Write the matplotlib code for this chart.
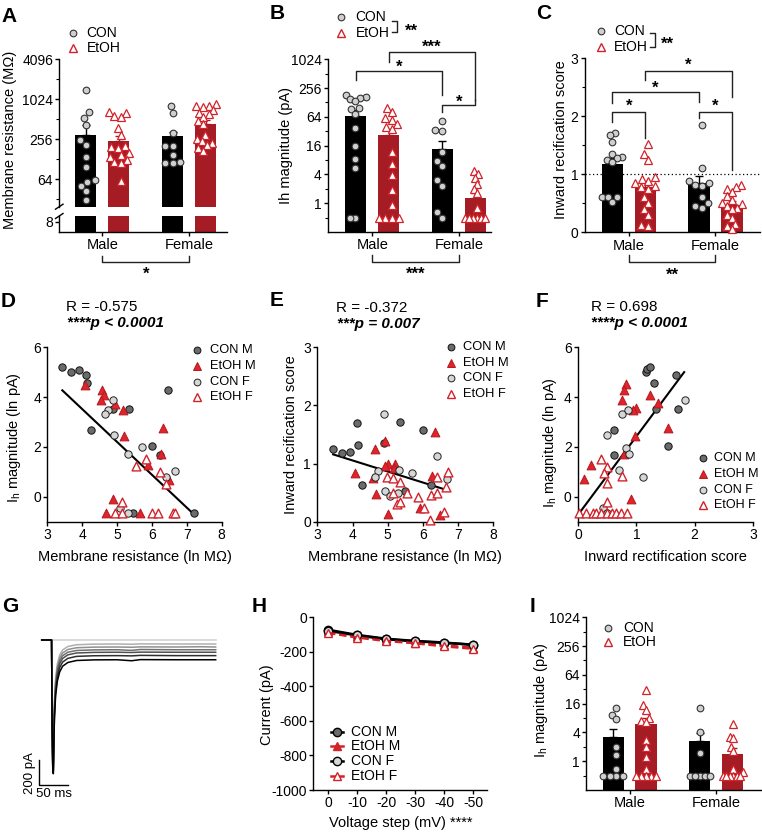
import numpy as np
import matplotlib
matplotlib.use("Agg")
import matplotlib.pyplot as plt
from matplotlib.lines import Line2D
from matplotlib.ticker import FixedLocator, NullFormatter
from matplotlib.transforms import blended_transform_factory

plt.rcParams['font.family'] = ['Liberation Sans', 'DejaVu Sans']
plt.rcParams['mathtext.fontset'] = 'custom'
plt.rcParams['mathtext.rm'] = 'Liberation Sans'
plt.rcParams['mathtext.it'] = 'Liberation Sans:italic'
plt.rcParams['axes.unicode_minus'] = False
plt.rcParams['axes.linewidth'] = 1.0

# ---------------- data ----------------
groups = ['Male', 'Female']

# A: membrane resistance (MOhm)
rm_mean_con = [297, 285]
rm_mean_etoh = [242, 427]
rm_sem_con = [118, 45]
rm_sem_etoh = [48, 73]
rm_con_m = [1400, 660, 540, 420, 250, 211, 140, 98, 62, 58, 51, 42, 31]
rm_etoh_m = [660, 640, 563, 550, 377, 297, 200, 195, 190, 160, 150, 140, 125, 115, 110, 59]
rm_con_f = [810, 630, 315, 205, 205, 150, 110, 112, 115]
rm_etoh_f = [880, 820, 800, 780, 700, 640, 610, 560, 480, 430, 300, 260, 240, 220, 210, 190, 170]

# B: Ih magnitude (pA)
ih_mean_con = [68, 13.7]
ih_mean_etoh = [27, 1.27]
ih_sem_con = [22, 6]
ih_sem_etoh = [8, 0.35]
ih_con_m = [186, 170, 160, 150, 140, 100, 95, 75, 38, 16, 8.3, 5.5, 0.5, 0.5]
ih_etoh_m = [100, 80, 60, 55, 45, 40, 36, 12, 6.5, 3.8, 1.9, 0.9, 0.5, 0.5, 0.5, 0.5]
ih_con_f = [52, 34, 33, 12, 7.7, 6, 3, 2.3, 0.65, 0.5]
ih_etoh_f = [4.7, 4, 3.3, 2.5, 2, 1.6, 0.8, 0.5, 0.5, 0.5, 0.5, 0.5, 0.5]

# C: inward rectification score
irs_mean_con = [1.18, 0.85]
irs_mean_etoh = [0.78, 0.47]
irs_sem_con = [0.1, 0.12]
irs_sem_etoh = [0.1, 0.07]
irs_con_m = [1.71, 1.68, 1.56, 1.35, 1.3, 1.28, 1.25, 1.22, 0.61, 0.6, 0.6, 0.53]
irs_etoh_m = [1.52, 1.35, 1.25, 0.95, 0.92, 0.88, 0.85, 0.8, 0.78, 0.75, 0.6, 0.5, 0.4, 0.3, 0.12, 0.1]
irs_con_f = [1.85, 1.1, 0.88, 0.85, 0.82, 0.8, 0.6, 0.5, 0.45, 0.42]
irs_etoh_f = [0.82, 0.78, 0.75, 0.7, 0.62, 0.55, 0.5, 0.48, 0.45, 0.42, 0.4, 0.3, 0.25, 0.15, 0.1, 0.05]

# D: ln Rm vs ln Ih
d_con_m_x = [3.43, 3.69, 3.92, 4.11, 4.15, 4.26, 4.89, 5.35, 6.00, 6.22, 6.46, 7.20, 5.46]
d_con_m_y = [5.20, 5.00, 5.10, 4.87, 4.56, 2.67, 3.53, 3.52, 2.04, 1.67, 4.29, -0.67, -0.67]
d_etoh_m_x = [4.07, 4.57, 4.62, 4.55, 4.93, 5.17, 5.21, 6.33, 6.26, 5.90, 6.50, 4.88, 4.67, 5.67]
d_etoh_m_y = [4.49, 4.29, 4.07, 3.87, 3.71, 3.49, 2.44, 2.77, 1.73, 1.27, 0.69, -0.09, -0.67, -0.67]
d_con_f_x = [4.88, 4.73, 4.64, 4.91, 5.30, 5.71, 6.39, 6.67, 5.07, 5.31]
d_con_f_y = [3.87, 3.47, 3.31, 2.47, 1.73, 2.00, 0.80, 1.04, -0.44, -0.67]
d_etoh_f_x = [5.55, 5.83, 6.22, 6.41, 5.14, 4.95, 5.14, 6.00, 6.17, 6.60, 6.65]
d_etoh_f_y = [1.23, 1.53, 1.00, 0.53, -0.20, -0.67, -0.67, -0.67, -0.67, -0.67, -0.67]
d_fit = (-1.32, 8.80, 3.43, 7.17)

# E: ln Rm vs inward rectification score
e_con_m_x = [3.45, 3.70, 3.93, 4.16, 4.12, 4.26, 4.90, 5.36, 6.01, 6.24, 5.48]
e_con_m_y = [1.25, 1.18, 1.20, 1.32, 1.70, 0.63, 1.35, 1.72, 1.57, 0.63, 0.53]
e_etoh_m_x = [4.92, 4.63, 4.08, 4.57, 5.00, 4.92, 5.21, 5.19, 4.68, 5.01, 6.35, 6.26, 5.93, 6.49]
e_etoh_m_y = [1.39, 1.25, 0.83, 0.76, 1.00, 0.95, 0.99, 0.92, 0.48, 0.13, 1.55, 0.79, 0.23, 0.11]
e_con_f_x = [4.89, 6.40, 5.69, 5.33, 4.73, 4.64, 4.92, 5.07, 5.30, 6.68]
e_con_f_y = [1.85, 1.13, 0.83, 0.89, 0.88, 0.77, 0.53, 0.45, 0.50, 0.73]
e_etoh_f_x = [4.97, 5.16, 5.36, 5.55, 5.27, 5.36, 5.86, 6.03, 6.24, 6.41, 6.40, 6.70, 6.65, 6.19, 6.60, 5.15]
e_etoh_f_y = [0.77, 0.76, 0.68, 0.50, 0.30, 0.34, 0.43, 0.24, 0.46, 0.50, 0.77, 0.85, 0.59, 0.03, 0.16, 0.49]
e_fit = (-0.19, 1.814, 3.45, 6.67)

# F: inward rectification score vs ln Ih
f_con_m_x = [1.16, 1.19, 1.24, 1.68, 1.31, 1.33, 1.71, 1.55, 0.62, 0.62]
f_con_m_y = [5.00, 5.13, 5.20, 4.87, 4.56, 3.53, 3.53, 2.04, 2.67, 1.67]
f_etoh_m_x = [0.82, 0.79, 0.75, 1.24, 1.37, 1.00, 0.94, 0.97, 1.54, 0.78, 0.23, 0.10, 0.91]
f_etoh_m_y = [4.53, 4.29, 3.89, 4.07, 3.76, 3.57, 3.49, 2.44, 2.77, 1.73, 1.27, 0.73, -0.09]
f_con_f_x = [0.76, 0.86, 0.50, 0.82, 0.87, 0.71, 1.12, 1.83, 0.43, 0.49]
f_con_f_y = [3.31, 3.47, 2.47, 1.97, 1.73, 1.07, 0.80, 3.87, -0.44, -0.67]
f_etoh_f_x = [0.40, 0.49, 0.45, 0.49, 0.75, 0.49, 0.02, 0.13, 0.25, 0.30, 0.39, 0.50, 0.59, 0.65, 0.73, 0.84]
f_etoh_f_y = [1.50, 1.20, 0.96, 0.56, 0.83, -0.20, -0.67, -0.67, -0.67, -0.67, -0.67, -0.67, -0.67, -0.67, -0.67, -0.67]
f_fit = (3.15, -0.73, 0.02, 1.82)

# G: example traces (ms, pA)
g_t = [0, 17, 18, 19, 20, 21, 22, 24, 27, 31, 36, 45, 60, 90, 130, 155, 170, 230, 276, 300]
g_traces = [
    [0, 0, 0, 0, 0, 0, 0, 0, 0, 0, 0, 0, 0, 0, 0, 0, 0, 0, 0, 0],
    [0, 0, -650, -950, -1000, -700, -480, -300, -190, -120, -80, -52, -38, -33, -32, -34, -31, -32, -32, -32],
    [0, 0, -670, -970, -1020, -730, -510, -330, -215, -145, -104, -76, -62, -57, -56, -58, -55, -56, -54, -56],
    [0, 0, -690, -990, -1040, -760, -540, -355, -240, -168, -126, -98, -84, -79, -78, -83, -76, -78, -78, -78],
    [0, 0, -700, -1000, -1050, -780, -560, -380, -262, -190, -148, -119, -104, -99, -98, -100, -97, -98, -98, -98],
    [0, 0, -710, -1010, -1060, -800, -590, -410, -292, -220, -177, -147, -131, -126, -125, -127, -123, -125, -125, -125],
    [0, 0, -720, -1020, -1070, -820, -620, -445, -328, -255, -210, -180, -164, -159, -158, -166, -157, -158, -158, -158],
]

# H: current vs voltage step
steps = [0, -10, -20, -30, -40, -50]
h_con_m = [-72, -102, -124, -137, -146, -160]
h_etoh_m = [-82, -110, -132, -146, -163, -176]
h_con_f = [-78, -105, -127, -139, -148, -158]
h_etoh_f = [-90, -117, -137, -150, -168, -182]

# I: Ih magnitude (pA)
i_mean_con = [3.2, 2.6]
i_mean_etoh = [6.0, 1.45]
i_sem_con = [1.5, 1.2]
i_sem_etoh = [2.0, 0.4]
i_con_m = [13, 9.4, 7.5, 2.0, 1.35, 0.69, 0.5, 0.5, 0.5, 0.5]
i_etoh_m = [31, 15, 12, 8.2, 7, 6.5, 2.8, 2, 1.2, 0.7, 0.5, 0.5, 0.5, 0.5, 0.5]
i_con_f = [13, 4.1, 1.5, 0.5, 0.5, 0.5, 0.5, 0.5]
i_etoh_f = [6, 3.2, 3, 2, 1.6, 0.7, 0.6, 0.5, 0.5, 0.5, 0.5, 0.5, 0.5]

# ---------------- layout helpers ----------------
W, H = 762, 832
fig = plt.figure(figsize=(W / 100, H / 100), dpi=100)
fig.patch.set_facecolor('white')

RED_BAR = '#a51c24'
RED = '#d2232a'
GREY_D = '#6b6b6b'
GREY_L = '#d6d6d6'
OFF = 0.19
BW = 0.245


def fx(px):
    return px / W


def fy(py):
    return 1 - py / H


def px_axes(x0, y0, x1, y1):
    ax = fig.add_axes([fx(x0), fy(y1), (x1 - x0) / W, (y1 - y0) / H])
    for s in ('top', 'right'):
        ax.spines[s].set_visible(False)
    ax.tick_params(direction='out', length=3, width=1, labelsize=10, pad=1.5)
    ax.tick_params(which='minor', length=2, width=0.8)
    return ax


def label(xp, yp, text, rot=0, fs=10.5, **kw):
    fig.text(fx(xp), fy(yp), text, rotation=rot, ha='center', va='center', fontsize=fs, **kw)


def swarm(ax, x0, vals, d=7.0, lim=0.115):
    # beeswarm offsets in pixels, squeezed to stay about the bar width
    pts = ax.transData.transform(np.column_stack([np.full(len(vals), x0), vals]))
    ys = pts[:, 1]
    ppu = ax.transData.transform((1, 1))[0] - ax.transData.transform((0, 1))[0]
    offs = np.zeros(len(vals))
    done = []
    for i in np.argsort(ys):
        near = [j for j in done if abs(ys[j] - ys[i]) < d]
        cands = [0.0]
        for j in near:
            r = np.sqrt(max(d * d - (ys[j] - ys[i]) ** 2, 0))
            cands += [offs[j] - r, offs[j] + r]
        for c in sorted(cands, key=abs):
            if all((c - offs[j]) ** 2 + (ys[j] - ys[i]) ** 2 >= d * d - 1e-6 for j in near):
                offs[i] = c
                break
        done.append(i)
    offs = offs / ppu
    if len(vals) > 1 and abs(offs).max() > lim:
        offs -= (offs.max() + offs.min()) / 2
        offs *= lim / abs(offs).max()
    return x0 + offs


def bar_panel(ax, means, sems, pts, base, d=7.0):
    for gi in range(2):
        for k in range(2):
            x = gi + (-OFF if k == 0 else OFF)
            col = 'black' if k == 0 else RED_BAR
            m = means[k][gi]
            ax.bar(x, m - base, bottom=base, width=BW, color=col, zorder=1)
            ax.errorbar(x, m, yerr=[[0], [sems[k][gi]]], color=col, capsize=3,
                        lw=1, capthick=1, zorder=1)
            vals = pts[k][gi]
            xs = swarm(ax, x, vals, d)
            if k == 0:
                ax.plot(xs, vals, 'o', ms=4.8, mfc='#cfcfcf', mec='#333333', mew=0.8,
                        zorder=3, clip_on=False)
            else:
                ax.plot(xs, vals, '^', ms=5.4, mfc='white', mec=RED, mew=0.9,
                        zorder=3, clip_on=False)


def bracket(ax, xa, xb, y, ya, yb, text, ly, fs=12):
    tr = blended_transform_factory(ax.transData, fig.transFigure)
    fig.add_artist(Line2D([xa, xa, xb, xb], [fy(ya), fy(y), fy(y), fy(yb)],
                          transform=tr, color='#222222', lw=1))
    fig.text((xa + xb) / 2, fy(ly + 4.5), text, transform=tr, ha='center', va='center',
             fontsize=fs, fontweight='bold')


def key(xm, xt, y, text, fs=9.5, line=None, **mk):
    if line is not None:
        fig.add_artist(Line2D([fx(xm - 6), fx(xm + 6)], [fy(y), fy(y)],
                              transform=fig.transFigure, **line))
    fig.add_artist(Line2D([fx(xm)], [fy(y)], transform=fig.transFigure, ls='none', **mk))
    fig.text(fx(xt), fy(y), text, va='center', ha='left', fontsize=fs)


def group_key(xm, xt, y1, y2):
    key(xm, xt, y1, 'CON', fs=10, marker='o', ms=4.8, mfc='#cfcfcf', mec='#333333', mew=0.8)
    key(xm, xt, y2, 'EtOH', fs=10, marker='^', ms=5.4, mfc='white', mec=RED, mew=1.0)


def sig_key(x0, x1, y1, y2, xs, ys, text):
    fig.add_artist(Line2D([fx(x0), fx(x1), fx(x1), fx(x0)], [fy(y1), fy(y1), fy(y2), fy(y2)],
                          transform=fig.transFigure, color='#222222', lw=1))
    fig.text(fx(xs), fy(ys + 4.5), text, ha='center', va='center', fontsize=12, fontweight='bold')


def log_ticks(ax, major, minor):
    ax.set_yticks(major, labels=[('%g' % v) for v in major])
    ax.yaxis.set_minor_locator(FixedLocator(minor))
    ax.yaxis.set_minor_formatter(NullFormatter())


def letter(xp, yp, t):
    fig.text(fx(xp), fy(yp), t, ha='left', va='top', fontsize=15, fontweight='bold')


sc_styles = [
    dict(marker='o', s=28, c=GREY_D, edgecolors='#111111', linewidths=0.7),
    dict(marker='^', s=40, c='#e2232b', edgecolors='#b01a20', linewidths=0.7),
    dict(marker='o', s=28, c=GREY_L, edgecolors='#222222', linewidths=0.7),
    dict(marker='^', s=40, c='white', edgecolors=RED, linewidths=1.0),
]
sc_names = ['CON M', 'EtOH M', 'CON F', 'EtOH F']


def scatter_panel(ax, sets, fit):
    for (xs, ys), st in zip(sets, sc_styles):
        ax.scatter(xs, ys, zorder=3, clip_on=False, **st)
    a, b, x0, x1 = fit
    ax.plot([x0, x1], [a * x0 + b, a * x1 + b], color='black', lw=1.5, zorder=2)


def scatter_key(xm, xt, ys, fs=9.3):
    for y, name, st in zip(ys, sc_names, sc_styles):
        mk = dict(marker=st['marker'], ms=5.6 if st['marker'] == '^' else 4.9,
                  mfc=st['c'], mec=st['edgecolors'], mew=st['linewidths'])
        key(xm, xt, y, name, fs=fs, **mk)


# ---------------- A ----------------
axA = px_axes(59.3, 59.3, 226.7, 206.7)
axA.set_yscale('log', base=2)
axA.set_ylim(24.5, 4096)
axA.set_xlim(-0.494, 1.43)
bar_panel(axA, [rm_mean_con, rm_mean_etoh], [rm_sem_con, rm_sem_etoh],
          [[rm_con_m, rm_con_f], [rm_etoh_m, rm_etoh_f]], base=1, d=7.5)
axA.spines['bottom'].set_visible(False)
axA.set_xticks([])
log_ticks(axA, [64, 256, 1024, 4096], [32, 128, 512, 2048])

axA2 = px_axes(59.3, 216, 226.7, 232)
axA2.set_ylim(0, 12.5)
axA2.set_xlim(-0.494, 1.43)
for gi in range(2):
    axA2.bar(gi - OFF, rm_mean_con[gi], width=BW, color='black')
    axA2.bar(gi + OFF, rm_mean_etoh[gi], width=BW, color=RED_BAR)
axA2.set_yticks([8])
axA2.set_xticks([0, 1], labels=groups, fontsize=10.5)
for yb in (206.7, 216):
    fig.add_artist(Line2D([fx(55.5), fx(63)], [fy(yb + 2.5), fy(yb - 2.5)],
                          transform=fig.transFigure, color='black', lw=1))
label(10, 140, 'Membrane resistance (M\u03a9)', rot=90)
group_key(73.3, 86.7, 33, 48.3)
bracket(axA2, 0, 1, 261.7, 256, 256, '*', 270)

# ---------------- B ----------------
axB = px_axes(328, 59.3, 490.7, 232)
axB.set_yscale('log', base=2)
axB.set_ylim(0.25, 1024)
axB.set_xlim(-0.51, 1.366)
bar_panel(axB, [ih_mean_con, ih_mean_etoh], [ih_sem_con, ih_sem_etoh],
          [[ih_con_m, ih_con_f], [ih_etoh_m, ih_etoh_f]], base=0.01, d=7.5)
axB.set_xticks([0, 1], labels=groups, fontsize=10.5)
log_ticks(axB, [1, 4, 16, 64, 256, 1024], [0.5, 2, 8, 32, 128, 512])
label(285.7, 145, 'Ih magnitude (pA)', rot=90)
group_key(341.3, 355.7, 16.7, 33.3)
sig_key(392.3, 397.3, 20.7, 32.3, 411.3, 26.7, '**')
bracket(axB, -OFF, 1 - OFF, 70.7, 80, 95, '*', 63)
bracket(axB, OFF, 1 + OFF, 51.7, 61.7, 100, '***', 43)
bracket(axB, 1 - OFF, 1 + OFF, 105, 111.7, 100, '*', 97.7)
bracket(axB, 0, 1, 261.7, 255, 255, '***', 269.3)

# ---------------- C ----------------
axC = px_axes(584.7, 58.3, 759.7, 232.3)
axC.set_ylim(0, 3)
axC.set_xlim(-0.508, 1.51)
axC.axhline(1, ls=(0, (1, 2)), color='black', lw=0.9, zorder=0)
bar_panel(axC, [irs_mean_con, irs_mean_etoh], [irs_sem_con, irs_sem_etoh],
          [[irs_con_m, irs_con_f], [irs_etoh_m, irs_etoh_f]], base=0, d=7.5)
axC.set_xticks([0, 1], labels=groups, fontsize=10.5)
axC.set_yticks([0, 1, 2, 3])
axC.yaxis.set_minor_locator(FixedLocator([0.5, 1.5, 2.5]))
label(561.3, 140, 'Inward recification score', rot=90)
group_key(600.7, 614, 31, 46.7)
sig_key(649.7, 654.7, 33.3, 46.7, 667.3, 40, '**')
bracket(axC, -OFF, OFF, 112.3, 121.7, 138.3, '*', 101.7)
bracket(axC, -OFF, 1 - OFF, 92.3, 103.3, 101.7, '*', 83.3)
bracket(axC, OFF, 1 + OFF, 70.7, 80, 96.7, '*', 61)
bracket(axC, 1 - OFF, 1 + OFF, 112.3, 118.3, 170, '*', 101.7)
bracket(axC, 0, 1, 261.7, 255, 255, '**', 270.7)

# ---------------- D ----------------
axD = px_axes(47.3, 347.3, 221.7, 521.6)
axD.set_xlim(3, 8)
axD.set_ylim(-1, 6)
scatter_panel(axD, [(d_con_m_x, d_con_m_y), (d_etoh_m_x, d_etoh_m_y),
                    (d_con_f_x, d_con_f_y), (d_etoh_f_x, d_etoh_f_y)], d_fit)
axD.set_xticks([3, 4, 5, 6, 7, 8])
axD.set_yticks([0, 2, 4, 6])
label(14, 438, r'I$_\mathrm{h}$ magnitude (ln pA)', rot=90)
label(134.5, 557, 'Membrane resistance (ln M\u03a9)')
fig.text(fx(66), fy(306.7), 'R = -0.575', fontsize=11, va='center')
fig.text(fx(66.7), fy(322.7), '****p < 0.0001', fontsize=11, va='center',
         fontweight='bold', fontstyle='italic')
scatter_key(196.7, 210, [350, 366, 381.7, 396.7])

# ---------------- E ----------------
axE = px_axes(317.3, 347.3, 493.3, 521.7)
axE.set_xlim(3, 8)
axE.set_ylim(0, 3)
scatter_panel(axE, [(e_con_m_x, e_con_m_y), (e_etoh_m_x, e_etoh_m_y),
                    (e_con_f_x, e_con_f_y), (e_etoh_f_x, e_etoh_f_y)], e_fit)
axE.set_xticks([3, 4, 5, 6, 7, 8])
axE.set_yticks([0, 1, 2, 3])
label(290.7, 435, 'Inward recification score', rot=90)
label(405.3, 557, 'Membrane resistance (ln M\u03a9)')
fig.text(fx(335.7), fy(308.3), 'R = -0.372', fontsize=11, va='center')
fig.text(fx(337), fy(324.3), '***p = 0.007', fontsize=11, va='center',
         fontweight='bold', fontstyle='italic')
scatter_key(450.7, 463.3, [347.3, 362.7, 378.3, 394.3])

# ---------------- F ----------------
axF = px_axes(578, 347.3, 753, 521.6)
axF.set_xlim(0, 3)
axF.set_ylim(-1, 6)
scatter_panel(axF, [(f_con_m_x, f_con_m_y), (f_etoh_m_x, f_etoh_m_y),
                    (f_con_f_x, f_con_f_y), (f_etoh_f_x, f_etoh_f_y)], f_fit)
axF.set_xticks([0, 1, 2, 3])
axF.set_yticks([0, 2, 4, 6])
label(549.7, 443, r'I$_\mathrm{h}$ magnitude (ln pA)', rot=90)
label(665.5, 557, 'Inward rectification score')
fig.text(fx(591), fy(306.7), 'R = 0.698', fontsize=11, va='center')
fig.text(fx(591), fy(322.7), '****p < 0.0001', fontsize=11, va='center',
         fontweight='bold', fontstyle='italic')
scatter_key(703, 714, [458.3, 474.3, 490, 505], fs=9)

# ---------------- G ----------------
axG = px_axes(30, 630, 230, 800)
axG.set_xlim(-20.2, 324.7)
axG.set_ylim(-1280, 80)
axG.axis('off')
g_colors = ['#cfcfcf', '#b0b0b0', '#909090', '#707070', '#505050', '#2e2e2e', '#000000']
for tr, c in zip(g_traces, g_colors):
    axG.plot(g_t, tr, color=c, lw=1.1)
axG.plot([-4.1, -4.1, 45.9], [-960, -1160, -1160], color='black', lw=1)
axG.text(-20.2, -1064, '200 pA', rotation=90, ha='center', va='center', fontsize=9.5)
axG.text(21.2, -1232, '50 ms', ha='center', va='center', fontsize=9.5)

# ---------------- H ----------------
axH = px_axes(313.3, 617.3, 487.3, 790)
axH.set_xlim(5.07, -54.9)
axH.set_ylim(-1000, 0)
h_series = [
    (h_con_m, 'CON M', dict(ls='-', color='black', marker='o', mfc=GREY_D, mec='black')),
    (h_etoh_m, 'EtOH M', dict(ls=(0, (3, 1.5)), color=RED, marker='^', mfc=RED, mec=RED)),
    (h_con_f, 'CON F', dict(ls='-', color='black', marker='o', mfc=GREY_L, mec='black')),
    (h_etoh_f, 'EtOH F', dict(ls=(0, (3, 1.5)), color=RED, marker='^', mfc='white', mec=RED)),
]
for vals, name, st in h_series:
    axH.plot(steps, vals, lw=1.8, ms=6, mew=1, clip_on=False, zorder=3, **st)
axH.set_xticks(steps, labels=[str(s) for s in steps])
axH.set_yticks([0, -200, -400, -600, -800, -1000],
               labels=['0', '-200', '-400', '-600', '-800', '-1000'])
label(267.3, 705, 'Current (pA)', rot=90)
label(400.7, 823.3, 'Voltage step (mV) ****')
for y, (vals, name, st) in zip([731.7, 746, 761, 776], h_series):
    key(337.3, 350.7, y, name, fs=10,
        line=dict(color=st['color'], lw=1.8, ls='-'),
        marker=st['marker'], ms=6, mfc=st['mfc'], mec=st['mec'], mew=1)

# ---------------- I ----------------
axI = px_axes(586.3, 617.3, 761.3, 790)
axI.set_yscale('log', base=2)
axI.set_ylim(0.25, 1024)
axI.set_xlim(-0.5, 1.52)
bar_panel(axI, [i_mean_con, i_mean_etoh], [i_sem_con, i_sem_etoh],
          [[i_con_m, i_con_f], [i_etoh_m, i_etoh_f]], base=0.01, d=6.0)
axI.set_xticks([0, 1], labels=groups, fontsize=10.5)
log_ticks(axI, [1, 4, 16, 64, 256, 1024], [0.5, 2, 8, 32, 128, 512])
label(541.3, 700, r'I$_\mathrm{h}$ magnitude (pA)', rot=90)
group_key(608, 623, 628.3, 641.7)

# panel letters
for xp, yp, t in [(1, 7, 'A'), (270, 4, 'B'), (536, 4, 'C'), (1, 292, 'D'), (270, 291, 'E'),
                  (536, 292, 'F'), (2, 597, 'G'), (252, 597, 'H'), (530, 597, 'I')]:
    letter(xp, yp, t)

fig.savefig('out.png', dpi=100)
